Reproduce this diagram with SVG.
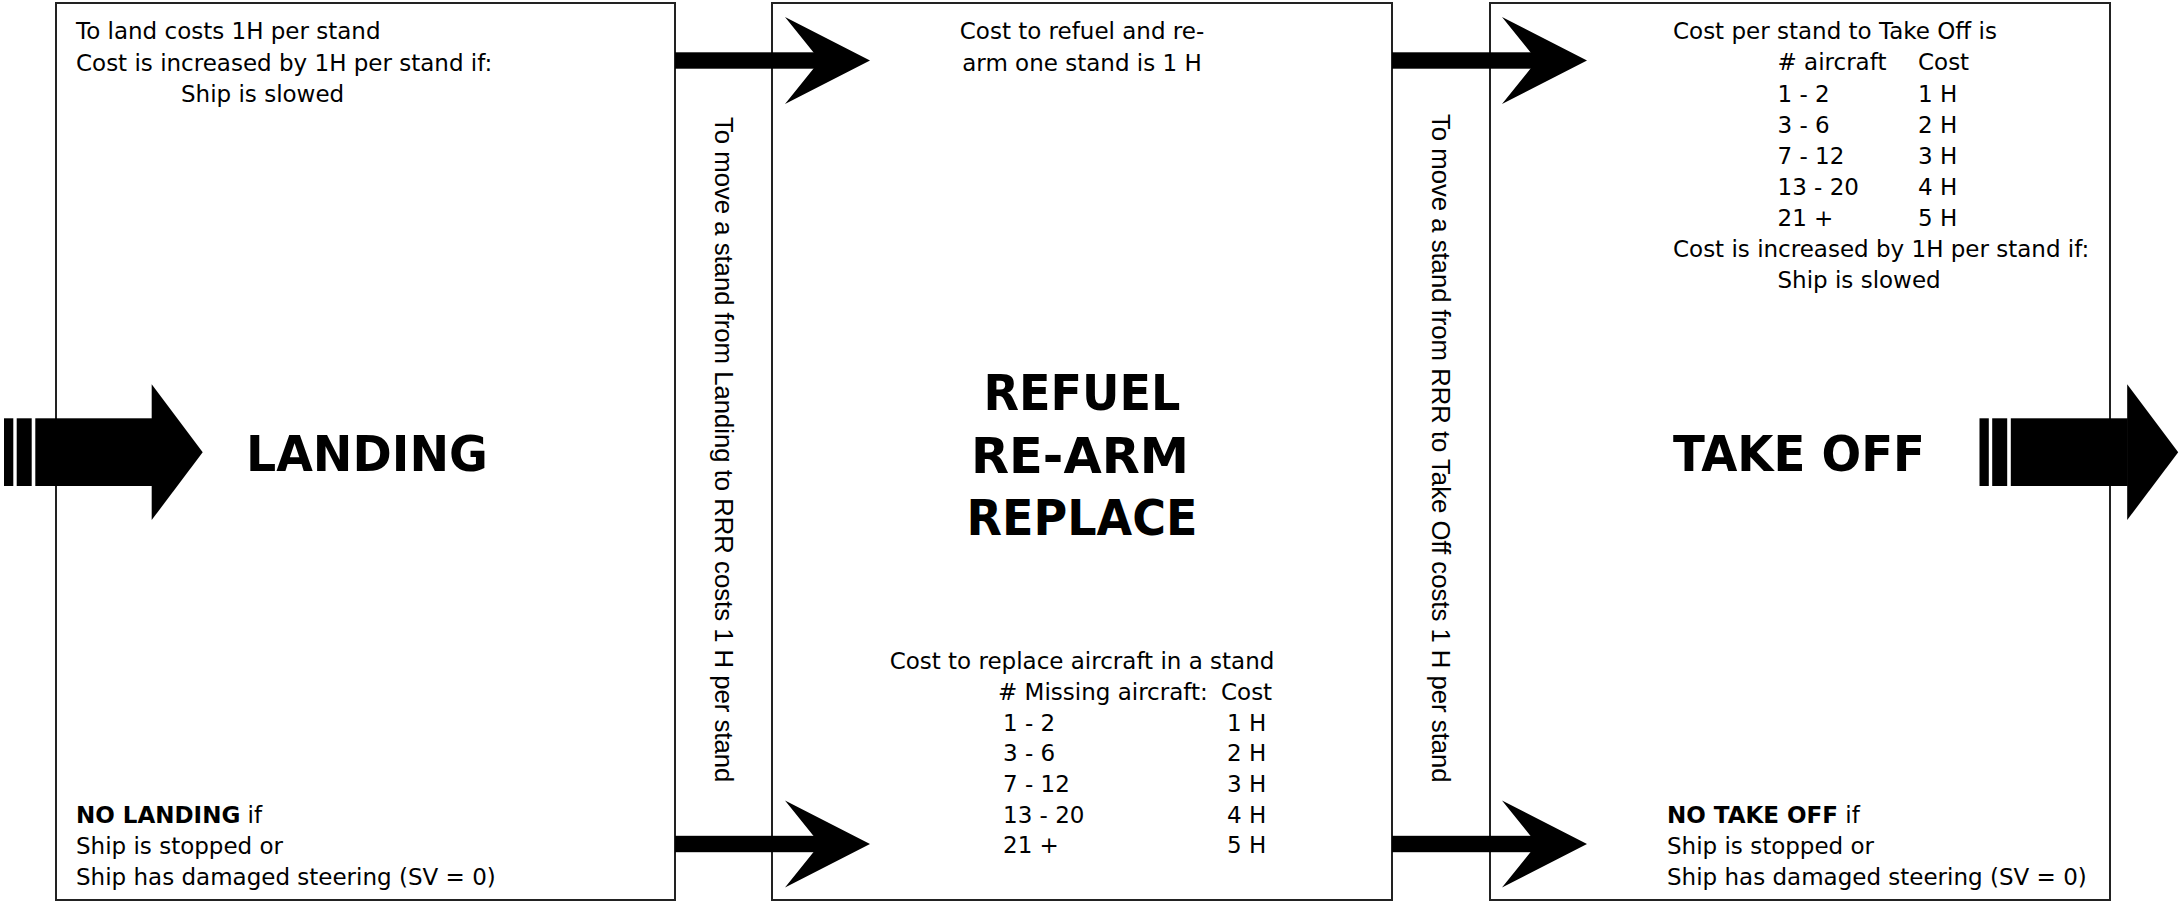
<svg xmlns="http://www.w3.org/2000/svg" width="2179" height="903" viewBox="0 0 2179 903">
<style>
.box{fill:#fff;stroke:#222;stroke-width:2}
.t{font-family:'DejaVu Sans','Noto Sans',sans-serif;font-size:23px;fill:#000}
.m{text-anchor:middle}
.b{font-weight:bold}
.title{font-family:'DejaVu Sans','Noto Sans',sans-serif;font-size:50px;font-weight:bold;fill:#000;text-anchor:middle}
.v{font-family:'Liberation Sans',Arial,sans-serif;font-size:25.7px;fill:#000}
.ar{fill:#000;stroke:none}
</style>
<defs>
<g id="smallArrow">
<rect x="0" y="-8.2" width="145" height="16.4"/>
<polygon points="110,-43.5 195,0 110,43.5 145,0"/>
</g>
<g id="bigArrow">
<rect x="0" y="-34" width="9.3" height="67.7"/>
<rect x="12.7" y="-34" width="15" height="67.7"/>
<rect x="31.3" y="-34" width="117" height="67.7"/>
<polygon points="147.7,-68 198.7,0 147.7,67.7"/>
</g>
</defs>

<g id="landing">
<rect class="box" x="56" y="3" width="619" height="897"/>
<text class="t" x="76" y="39">To land costs 1H per stand</text>
<text class="t" x="76" y="70.5">Cost is increased by 1H per stand if:</text>
<text class="t" x="181" y="101.5">Ship is slowed</text>
<text class="title" x="367" y="471" textLength="242" lengthAdjust="spacingAndGlyphs">LANDING</text>
<text class="t" x="76" y="822.5"><tspan class="b">NO LANDING</tspan> if</text>
<text class="t" x="76" y="854">Ship is stopped or</text>
<text class="t" x="76" y="885">Ship has damaged steering (SV = 0)</text>
</g>

<g id="rrr">
<rect class="box" x="772" y="3" width="620" height="897"/>
<text class="t m" x="1082" y="38.5">Cost to refuel and re-</text>
<text class="t m" x="1082" y="70.5">arm one stand is 1 H</text>
<text class="title" x="1082" y="410" textLength="197" lengthAdjust="spacingAndGlyphs">REFUEL</text>
<text class="title" x="1080" y="472.5" textLength="218" lengthAdjust="spacingAndGlyphs">RE-ARM</text>
<text class="title" x="1082" y="535" textLength="231" lengthAdjust="spacingAndGlyphs">REPLACE</text>
<text class="t m" x="1082" y="668.5">Cost to replace aircraft in a stand</text>
<text class="t" x="998" y="700">#&#160;Missing aircraft:</text>
<text class="t" x="1221" y="700">Cost</text>
<text class="t" x="1003" y="730.5">1 - 2</text>
<text class="t" x="1003" y="761">3 - 6</text>
<text class="t" x="1003" y="792">7 - 12</text>
<text class="t" x="1003" y="822.5">13 - 20</text>
<text class="t" x="1003" y="853">21 +</text>
<text class="t" x="1227" y="730.5">1 H</text>
<text class="t" x="1227" y="761">2 H</text>
<text class="t" x="1227" y="792">3 H</text>
<text class="t" x="1227" y="822.5">4 H</text>
<text class="t" x="1227" y="853">5 H</text>
</g>

<g id="takeoff">
<rect class="box" x="1490" y="3" width="620" height="897"/>
<text class="t" x="1673" y="38.5">Cost per stand to Take Off is</text>
<text class="t" x="1777.5" y="70">#&#160;aircraft</text>
<text class="t" x="1918" y="70">Cost</text>
<text class="t" x="1777.5" y="101.5">1 - 2</text>
<text class="t" x="1777.5" y="132.5">3 - 6</text>
<text class="t" x="1777.5" y="163.5">7 - 12</text>
<text class="t" x="1777.5" y="194.5">13 - 20</text>
<text class="t" x="1777.5" y="225.5">21 +</text>
<text class="t" x="1918" y="101.5">1 H</text>
<text class="t" x="1918" y="132.5">2 H</text>
<text class="t" x="1918" y="163.5">3 H</text>
<text class="t" x="1918" y="194.5">4 H</text>
<text class="t" x="1918" y="225.5">5 H</text>
<text class="t" x="1673" y="256.5">Cost is increased by 1H per stand if:</text>
<text class="t" x="1777.5" y="287.5">Ship is slowed</text>
<text class="title" x="1799" y="471" textLength="252" lengthAdjust="spacingAndGlyphs">TAKE OFF</text>
<text class="t" x="1667" y="822.5"><tspan class="b">NO TAKE OFF</tspan> if</text>
<text class="t" x="1667" y="854">Ship is stopped or</text>
<text class="t" x="1667" y="885">Ship has damaged steering (SV = 0)</text>
</g>

<g id="connectors" class="ar">
<use href="#bigArrow" x="4" y="452.3"/>
<use href="#bigArrow" x="1979.5" y="452.3"/>
<use href="#smallArrow" x="675" y="60.5"/>
<use href="#smallArrow" x="675" y="844"/>
<use href="#smallArrow" x="1392" y="60.5"/>
<use href="#smallArrow" x="1392" y="844"/>
<text class="v" x="715" y="117" transform="rotate(90 715 117)">To move a stand from Landing to RRR costs 1 H per stand</text>
<text class="v" x="1432" y="114" transform="rotate(90 1432 114)">To move a stand from RRR to Take Off costs 1 H per stand</text>
</g>
</svg>
